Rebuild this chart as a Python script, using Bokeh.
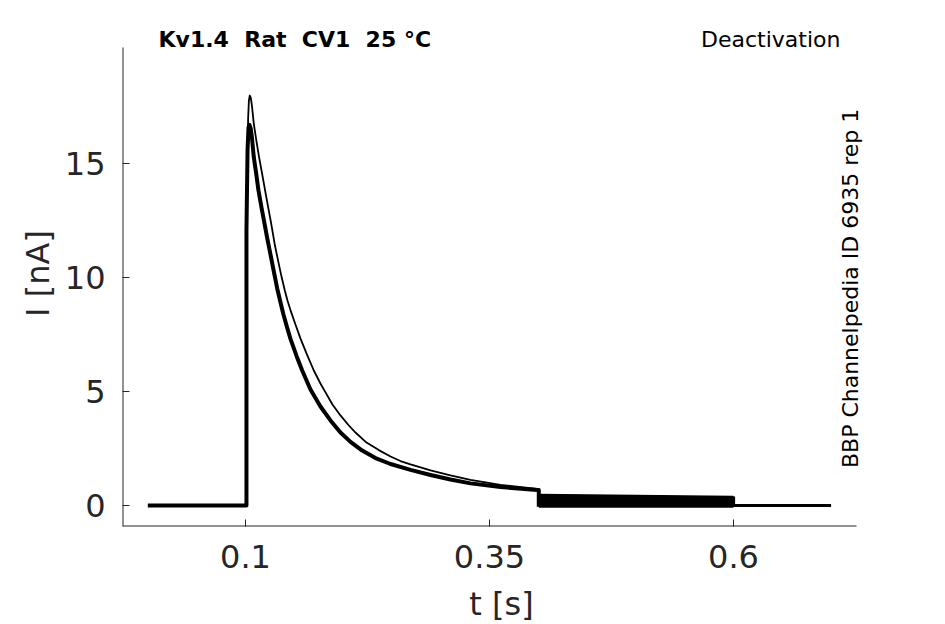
import math
from bokeh.plotting import figure
from bokeh.models import Label, FixedTicker, Range1d
from bokeh.embed import file_html
from bokeh.resources import INLINE

# ---- data (time in s, current in nA) ----
# main (lower, overlapping) bundle of traces during the activating step
t_main = [0.0, 0.1010, 0.1010, 0.1021, 0.1031, 0.1041, 0.1053, 0.1067, 0.1085,
          0.1108, 0.1133, 0.1164, 0.1195, 0.1225, 0.1256, 0.1292, 0.1325,
          0.1359, 0.1389, 0.1425, 0.1461, 0.1523, 0.1581, 0.1666, 0.1768,
          0.1871, 0.1973, 0.2076, 0.2196, 0.2332, 0.2486, 0.2691, 0.2896,
          0.3100, 0.3305, 0.3613, 0.3989, 0.4005, 0.4005]
i_main = [0.0, 0.0, 12.06, 15.57, 16.58, 16.69, 16.54, 16.10, 15.28,
          14.61, 13.82, 13.07, 12.36, 11.67, 11.01, 10.22, 9.52,
          8.90, 8.38, 7.83, 7.31, 6.56, 5.92, 5.09, 4.34,
          3.73, 3.20, 2.79, 2.41, 2.08, 1.82, 1.56, 1.34,
          1.14, 0.97, 0.81, 0.68, 0.68, -0.05]

# single trace with the larger peak
t_upper = [0.0, 0.1010, 0.1010, 0.1027, 0.1035, 0.1044, 0.1054, 0.1067, 0.1085,
           0.1111, 0.1140, 0.1174, 0.1210, 0.1263, 0.1302, 0.1338, 0.1369,
           0.1403, 0.1430, 0.1461, 0.1512, 0.1564, 0.1625, 0.1700, 0.1768,
           0.1820, 0.1891, 0.1973, 0.2055, 0.2127, 0.2240, 0.2366, 0.2486,
           0.2588, 0.2691, 0.2896, 0.3100, 0.3305, 0.3613, 0.3989, 0.4005,
           0.4005]
i_upper = [0.0, 0.0, 12.06, 16.97, 17.76, 17.98, 17.89, 17.50, 16.75,
           16.01, 15.26, 14.47, 13.60, 12.37, 11.40, 10.66, 10.04,
           9.43, 8.99, 8.57, 7.94, 7.32, 6.67, 5.92, 5.35,
           4.96, 4.43, 3.95, 3.53, 3.20, 2.76, 2.43, 2.15,
           1.95, 1.80, 1.54, 1.32, 1.12, 0.90, 0.73, 0.73,
           0.0]

# deactivation tails (many overlapping traces forming a band)
t_tail = [0.4005, 0.6000]
i_tail_top = [0.48, 0.39]
i_tail_bottom = [-0.07, -0.07]

# return to holding
t_after = [0.6000, 0.6000, 0.7000]
i_after = [0.39, 0.0, 0.0]

x_ticks = [0.1, 0.35, 0.6]
x_tick_labels = {0.1: "0.1", 0.35: "0.35", 0.6: "0.6"}
y_ticks = [0, 5, 10, 15]

NB = " \u00a0"  # double spacing that survives SVG whitespace collapsing
title_text = NB.join(["Kv1.4", "Rat", "CV1", "25 \u00b0C"])
protocol_text = "Deactivation"
side_text = "BBP Channelpedia ID 6935 rep 1"

# axes extents (the spines) and the wider plotting frame that holds the labels
X_LO, X_SPINE_HI, X_FRAME_HI = -0.026, 0.726, 0.7506
Y_LO, Y_SPINE_HI, Y_FRAME_HI = -0.921, 20.09, 21.27

FONT = "DejaVu Sans"
TXT = "#262626"

p = figure(frame_width=758, frame_height=506,
           x_range=Range1d(X_LO, X_FRAME_HI), y_range=Range1d(Y_LO, Y_FRAME_HI),
           output_backend="svg", toolbar_location=None,
           min_border_left=122, min_border_top=20, min_border_right=50,
           min_border_bottom=90)
p.outline_line_color = None
p.grid.visible = False
p.background_fill_color = "white"
p.border_fill_color = "white"

# spines
p.segment(x0=[X_LO], y0=[Y_LO], x1=[X_LO], y1=[Y_SPINE_HI], line_color=TXT, line_width=2)
p.segment(x0=[X_LO], y0=[Y_LO], x1=[X_SPINE_HI], y1=[Y_LO], line_color=TXT, line_width=2)

p.line(t_main, i_main, line_color="black", line_width=4.0, line_join="round")
p.line(t_upper, i_upper, line_color="black", line_width=1.8, line_join="round")
p.varea(x=t_tail, y1=i_tail_bottom, y2=i_tail_top, fill_color="black")
p.line(t_tail, i_tail_top, line_color="black", line_width=1.5)
p.line(t_tail, i_tail_bottom, line_color="black", line_width=1.5)
p.line(t_after, i_after, line_color="black", line_width=3.2)

for ax in (p.xaxis, p.yaxis):
    ax.axis_line_color = None
    ax.major_tick_line_color = TXT
    ax.major_tick_in = 7
    ax.major_tick_out = 0
    ax.minor_tick_line_color = None
    ax.major_label_text_font = FONT
    ax.major_label_text_font_size = "32px"
    ax.major_label_text_color = TXT
    ax.axis_label_text_font = FONT
    ax.axis_label_text_font_size = "32px"
    ax.axis_label_text_color = TXT
    ax.axis_label_text_font_style = "normal"

p.xaxis.ticker = FixedTicker(ticks=x_ticks)
p.xaxis.major_label_overrides = x_tick_labels
p.yaxis.ticker = FixedTicker(ticks=y_ticks)
p.xaxis.axis_label = "t [s]"
p.yaxis.axis_label = "I [nA]"
p.xaxis.major_label_standoff = 18
p.xaxis.axis_label_standoff = 14
p.yaxis.major_label_standoff = 17
p.yaxis.axis_label_standoff = 5

p.add_layout(Label(x=0.0109, y=20.44, text=title_text, text_font=FONT,
                   text_font_size="22px", text_font_style="bold",
                   text_color="black", text_align="left", text_baseline="middle"))
p.add_layout(Label(x=0.7096, y=20.44, text=protocol_text, text_font=FONT,
                   text_font_size="22px", text_color="black",
                   text_align="right", text_baseline="middle"))
p.add_layout(Label(x=0.7199, y=9.52, text=side_text, text_font=FONT,
                   text_font_size="22px", text_color="black", angle=math.pi / 2,
                   text_align="center", text_baseline="middle"))

open("out.html", "w").write(file_html(p, INLINE))
